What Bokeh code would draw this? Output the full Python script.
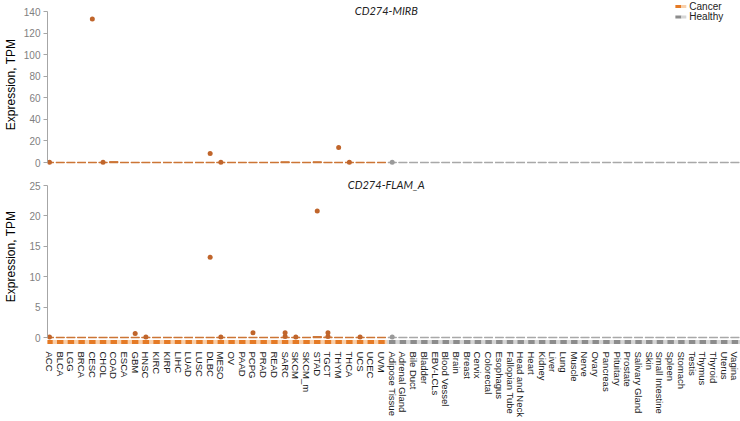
from bokeh.plotting import figure
from bokeh.layouts import column
from bokeh.models import Range1d, FixedTicker, Label
from bokeh.embed import file_html
from bokeh.resources import INLINE

# ---------------- data ----------------
cancer_types = ["ACC", "BLCA", "LGG", "BRCA", "CESC", "CHOL", "COAD", "ESCA", "GBM", "HNSC",
                "KIRC", "KIRP", "LIHC", "LUAD", "LUSC", "DLBC", "MESO", "OV", "PAAD", "PCPG",
                "PRAD", "READ", "SARC", "SKCM", "SKCM_m", "STAD", "TGCT", "THYM", "THCA", "UCS",
                "UCEC", "UVM"]
healthy_tissues = ["Adipose Tissue", "Adrenal Gland", "Bile Duct", "Bladder", "EBV-LCLs",
                   "Blood Vessel", "Brain", "Breast", "Cervix", "Colorectal", "Esophagus",
                   "Fallopian Tube", "Head and Neck", "Heart", "Kidney", "Liver", "Lung",
                   "Muscle", "Nerve", "Ovary", "Pancreas", "Pituitary", "Prostate",
                   "Salivary Gland", "Skin", "Small Intestine", "Spleen", "Stomach", "Testis",
                   "Thymus", "Thyroid", "Uterus", "Vagina"]

# CD274-MIRB: box upper quartile (TPM) per category (medians are 0)
mirb_cancer_q3 = [0, 0, 0, 0, 0, 0, 0.8, 0, 0, 0, 0, 0, 0, 0, 0, 0,
                  0, 0, 0, 0, 0, 0, 0.6, 0, 0, 0.6, 0, 0, 0, 0, 0, 0]
mirb_healthy_q3 = [0, 0, 0, 0, 0, 0, 0, 0, 0, 0, 0, 0, 0, 0, 0, 0, 0,
                   0, 0, 0, 0, 0, 0, 0, 0, 0, 0, 0, 0, 0, 0, 0, 0]
mirb_out_cat = ["ACC", "CESC", "CHOL", "DLBC", "MESO", "THYM", "THCA", "Adipose Tissue"]
mirb_out_val = [0.3, 133.0, 0.3, 8.3, 0.2, 13.8, 0.3, 0.2]

# CD274-FLAM_A
flam_cancer_q3 = [0, 0, 0, 0, 0, 0, 0, 0, 0, 0, 0, 0, 0, 0, 0, 0,
                  0, 0, 0, 0, 0, 0, 0, 0, 0, 0.15, 0.05, 0, 0, 0, 0, 0]
flam_healthy_q3 = [0, 0, 0, 0, 0, 0, 0, 0, 0, 0, 0, 0, 0, 0, 0, 0, 0,
                   0, 0, 0, 0, 0, 0, 0, 0, 0, 0, 0, 0, 0, 0, 0, 0]
flam_out_cat = ["ACC", "GBM", "HNSC", "DLBC", "MESO", "PCPG", "SARC", "SARC", "SKCM",
                "STAD", "TGCT", "TGCT", "UCS", "Adipose Tissue"]
flam_out_val = [0.1, 0.65, 0.1, 13.2, 0.1, 0.8, 0.8, 0.15, 0.1, 20.8, 0.8, 0.15, 0.1, 0.1]

mirb_ticks = [0, 20, 40, 60, 80, 100, 120, 140]
flam_ticks = [0, 5, 10, 15, 20, 25]

# ---------------- styling ----------------
CAN_BOX = "#cc7535"
CAN_DOT = "#c0652b"
HEA_BOX = "#a8a8a8"
HEA_DOT = "#9a9a9a"
CAN_DARK, CAN_LIGHT = "#e57a25", "#f9d0ab"
HEA_DARK, HEA_LIGHT = "#8c8c8c", "#d6d6d6"
FONT = "Liberation Sans"

categories = cancer_types + healthy_tissues
idx = {c: i for i, c in enumerate(categories)}
n_c = len(cancer_types)
n_all = len(categories)
FRAME_W = 696
LEFT = 42
X0, X1 = -0.186, n_all - 1 + 0.8


def base_fig(frame_h, yr, ticks, standoff):
    p = figure(frame_width=FRAME_W, frame_height=frame_h, output_backend="svg",
               toolbar_location=None, x_range=Range1d(X0, X1), y_range=yr,
               min_border_left=LEFT, min_border_right=2, min_border_top=0,
               min_border_bottom=0)
    p.outline_line_color = None
    p.xgrid.visible = False
    p.ygrid.visible = False
    p.background_fill_color = "white"
    ya = p.yaxis[0]
    ya.ticker = FixedTicker(ticks=ticks)
    ya.bounds = (ticks[0], ticks[-1])
    ya.axis_label = "Expression, TPM"
    ya.axis_label_text_font = FONT
    ya.axis_label_text_font_size = "12px"
    ya.axis_label_text_font_style = "normal"
    ya.axis_label_text_color = "#000000"
    ya.axis_label_standoff = standoff
    ya.major_label_text_font = FONT
    ya.major_label_text_font_size = "10px"
    ya.major_label_text_color = "#7f7f7f"
    ya.axis_line_color = "#a6a6a6"
    ya.major_tick_line_color = "#a6a6a6"
    ya.major_tick_out = 4
    ya.major_tick_in = 0
    ya.minor_tick_line_color = None
    ya.major_label_standoff = 3
    return p


def draw_boxes(p, q3_c, q3_h, out_cat, out_val, title, title_y):
    for xs_off, q3, col in ((0, q3_c, CAN_BOX), (n_c, q3_h, HEA_BOX)):
        xs = [i + xs_off for i in range(len(q3))]
        p.quad(left=[x - 0.4 for x in xs], right=[x + 0.4 for x in xs],
               bottom=[0] * len(xs), top=q3, fill_color=col, line_color=col, line_width=1)
        p.segment(x0=[x - 0.4 for x in xs], x1=[x + 0.4 for x in xs],
                  y0=[0] * len(xs), y1=[0] * len(xs), line_color=col, line_width=1.6)
    cx = [idx[c] for c in out_cat]
    cols = [CAN_DOT if idx[c] < n_c else HEA_DOT for c in out_cat]
    p.scatter(x=cx, y=out_val, size=5, fill_color=cols, line_color=None)
    p.add_layout(Label(x=31.45, y=title_y, text=title, text_font="Lato",
                       text_font_style="italic", text_font_size="11px",
                       text_align="center", text_baseline="middle", text_color="#222222"))


# ---------------- top panel ----------------
top = base_fig(168, Range1d(-5.56, 150.2), mirb_ticks, 3)
top.xaxis.visible = False
draw_boxes(top, mirb_cancer_q3, mirb_healthy_q3, mirb_out_cat, mirb_out_val, "CD274-MIRB", 140.9)

# legend (manual two-tone swatches)
for yv, dark, light, name in ((144.6, CAN_DARK, CAN_LIGHT, "Cancer"),
                              (135.0, HEA_DARK, HEA_LIGHT, "Healthy")):
    top.quad(left=[58.44], right=[59.0], bottom=[yv - 1.4], top=[yv + 1.4],
             fill_color=dark, line_color=None)
    top.quad(left=[59.0], right=[59.46], bottom=[yv - 1.4], top=[yv + 1.4],
             fill_color=light, line_color=None)
    top.add_layout(Label(x=59.74, y=yv, text=name, text_font=FONT, text_font_size="10px",
                         text_baseline="middle", text_align="left", text_color="#222222"))

# ---------------- bottom panel ----------------
bot = base_fig(176, Range1d(-1.151, 27.80), flam_ticks, 8)
draw_boxes(bot, flam_cancer_q3, flam_healthy_q3, flam_out_cat, flam_out_val, "CD274-FLAM_A", 25.17)

# category colour strip under the panel
s_b, s_t = -1.07, -0.41
bot.quad(left=[-0.5], right=[n_c - 0.5], bottom=[s_b], top=[s_t], fill_color=CAN_LIGHT,
         line_color=None)
bot.quad(left=[n_c - 0.5], right=[n_all - 0.5], bottom=[s_b], top=[s_t], fill_color=HEA_LIGHT,
         line_color=None)
xs_c = list(range(n_c))
xs_h = list(range(n_c, n_all))
bot.quad(left=[x - 0.3 for x in xs_c], right=[x + 0.3 for x in xs_c], bottom=s_b, top=s_t,
         fill_color=CAN_DARK, line_color=None)
bot.quad(left=[x - 0.3 for x in xs_h], right=[x + 0.3 for x in xs_h], bottom=s_b, top=s_t,
         fill_color=HEA_DARK, line_color=None)

xa = bot.xaxis[0]
xa.ticker = FixedTicker(ticks=list(range(n_all)))
xa.major_label_overrides = {i: c for i, c in enumerate(categories)}
xa.major_label_orientation = "vertical"
xa.major_label_text_font = FONT
xa.major_label_text_font_size = "9.5px"
xa.major_label_text_color = "#1a1a1a"
xa.major_label_standoff = 1
xa.axis_line_color = None
xa.major_tick_line_color = None
xa.minor_tick_line_color = None

layout = column(top, bot, spacing=0)
open("out.html", "w").write(file_html(layout, INLINE))
